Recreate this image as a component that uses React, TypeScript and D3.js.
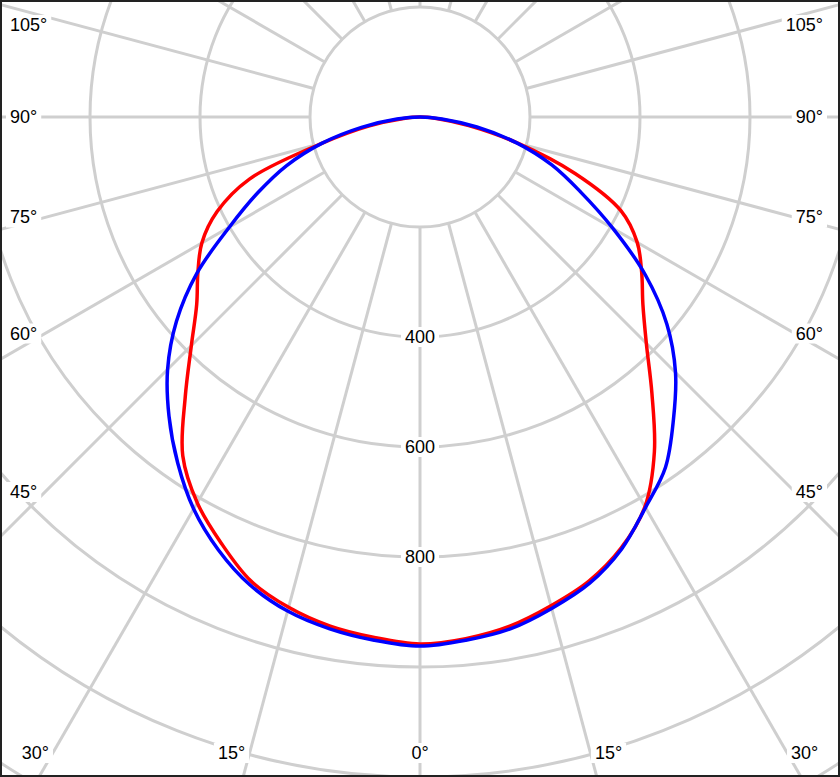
import React, { useRef, useEffect } from 'react';
import * as d3 from 'd3';

const WIDTH = 840;
const HEIGHT = 777;

// gamma angles in degrees, 0 = straight down
const gammaAngles = [0, 5, 10, 15, 20, 25, 30, 35, 40, 45, 50, 55, 60, 65, 70, 75, 80, 85, 90];

// red curve (C0 right half / C180 left half), cd
const c0Values = [958, 952, 940, 920, 898, 865, 818, 743, 656, 582, 529, 492, 456, 403, 300, 185, 90, 30, 0];
const c180Values = [958, 950, 940, 923, 898, 855, 810, 752, 664, 588, 530, 493, 458, 407, 330, 185, 95, 30, 0];

// blue curve (C90 right half / C270 left half), cd
const c90Values = [962, 955, 945, 925, 902, 867, 820, 778, 717, 657, 586, 500, 405, 322, 255, 182, 105, 40, 0];
const c270Values = [962, 955, 945, 930, 905, 868, 823, 768, 710, 649, 578, 495, 400, 325, 258, 185, 108, 42, 0];

// grid
const ringValues = [200, 400, 600, 800, 1000, 1200, 1400];
const ringLabels = [400, 600, 800];
const spokeAngles = [0, 15, 30, 45, 60, 75, 90, 105, 120, 135, 150, 165, 180, 195, 210, 225, 240, 255, 270, 285, 300, 315, 330, 345];
const angleLabels = [0, 15, 30, 45, 60, 75, 90, 105];

const PolarDiagram: React.FC = () => {
  const svgRef = useRef<SVGSVGElement>(null);

  useEffect(() => {
    if (!svgRef.current) return;
    const svg = d3.select(svgRef.current);
    svg.selectAll('*').remove();

    const cx = WIDTH / 2;
    const cy = 117;
    const rad = Math.PI / 180;
    const font = 'Liberation Sans, Arial, sans-serif';

    const rScale = d3.scaleLinear().domain([0, 1000]).range([0, 550]);

    svg.append('rect')
      .attr('width', WIDTH)
      .attr('height', HEIGHT)
      .attr('fill', '#fff');

    const chart = svg.append('g')
      .attr('transform', `translate(${cx}, ${cy})`);

    // rings
    ringValues.forEach(v => {
      chart.append('circle')
        .attr('r', rScale(v))
        .attr('fill', 'none')
        .attr('stroke', '#cfcfcf')
        .attr('stroke-width', 3);
    });

    // spokes, every 15 degrees, starting at the first ring
    const rInner = rScale(ringValues[0]);
    const rOuter = rScale(1500);
    spokeAngles.forEach(a => {
      const dx = Math.sin(a * rad);
      const dy = Math.cos(a * rad);
      chart.append('line')
        .attr('x1', rInner * dx)
        .attr('y1', rInner * dy)
        .attr('x2', rOuter * dx)
        .attr('y2', rOuter * dy)
        .attr('stroke', '#cfcfcf')
        .attr('stroke-width', 3);
    });

    // curves
    const line = d3.lineRadial<[number, number]>()
      .angle(d => d[0])
      .radius(d => d[1])
      .curve(d3.curveCatmullRomClosed.alpha(0.5));

    const buildPoints = (right: number[], left: number[]) => {
      const pts: [number, number][] = [];
      gammaAngles.forEach((g, i) => {
        pts.push([Math.PI - g * rad, rScale(right[i])]);
      });
      for (let i = gammaAngles.length - 2; i >= 1; i--) {
        pts.push([Math.PI + gammaAngles[i] * rad, rScale(left[i])]);
      }
      return pts;
    };

    chart.append('path')
      .attr('d', line(buildPoints(c0Values, c180Values)) as string)
      .attr('fill', 'none')
      .attr('stroke', '#ff0000')
      .attr('stroke-width', 3.5)
      .attr('stroke-linejoin', 'round');

    chart.append('path')
      .attr('d', line(buildPoints(c90Values, c270Values)) as string)
      .attr('fill', 'none')
      .attr('stroke', '#0000ff')
      .attr('stroke-width', 3.5)
      .attr('stroke-linejoin', 'round');

    // text with white box behind it
    const addLabel = (x: number, y: number, text: string, anchor: string) => {
      const g = svg.append('g');
      const box = g.append('rect').attr('fill', '#fff');
      const t = g.append('text')
        .attr('x', x)
        .attr('y', y)
        .attr('text-anchor', anchor)
        .attr('dominant-baseline', 'central')
        .attr('font-family', font)
        .attr('font-size', '18px')
        .attr('fill', '#000')
        .text(text);
      const bb = (t.node() as SVGTextElement).getBBox();
      box.attr('x', bb.x - 4)
        .attr('y', bb.y)
        .attr('width', bb.width + 8)
        .attr('height', bb.height);
    };

    // ring labels along the 0 degree line
    ringLabels.forEach(v => {
      addLabel(cx, cy + rScale(v), String(v), 'middle');
    });

    // angle labels where spokes leave the inner frame
    const sideX = 375;
    const bottomY = 751;
    angleLabels.forEach(a => {
      const sides = a === 0 ? [1] : [-1, 1];
      sides.forEach(s => {
        const sx = Math.sin(a * rad);
        const sy = Math.cos(a * rad);
        const tx = sx > 0 ? sideX / sx : Infinity;
        const ty = sy > 0 ? (bottomY - cy) / sy : Infinity;
        const label = `${a}°`;
        if (tx < ty) {
          const y = Math.max(25, cy + tx * sy);
          if (s < 0) addLabel(10, y, label, 'start');
          else addLabel(823, y, label, 'end');
        } else {
          const x = cx + s * ty * sx;
          if (a === 0) addLabel(x, bottomY + 2, label, 'middle');
          else if (s < 0) addLabel(x - 5, bottomY + 2, label, 'end');
          else addLabel(x + 5, bottomY + 2, label, 'start');
        }
      });
    });

    // frame
    svg.append('rect')
      .attr('x', 1)
      .attr('y', 1)
      .attr('width', WIDTH - 2)
      .attr('height', HEIGHT - 2)
      .attr('fill', 'none')
      .attr('stroke', '#222')
      .attr('stroke-width', 2);
  }, []);

  return (
    <svg
      ref={svgRef}
      width={WIDTH}
      height={HEIGHT}
      style={{ position: 'absolute', left: 0, top: 0, display: 'block' }}
    />
  );
};

export default function App() {
  return <PolarDiagram />;
}
